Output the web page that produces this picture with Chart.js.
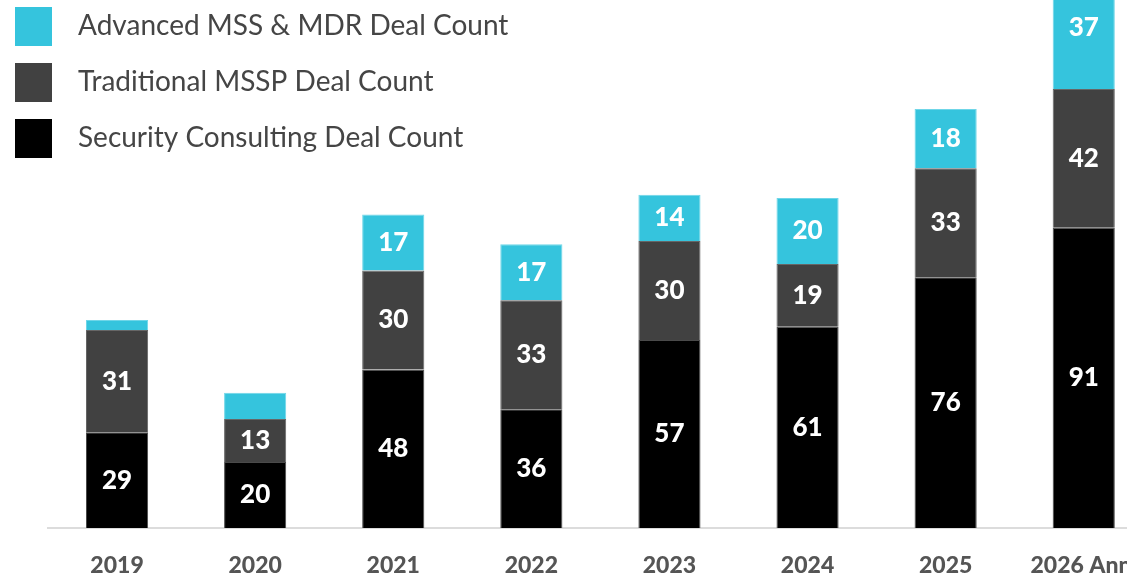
<!DOCTYPE html>
<html>
<head>
<meta charset="utf-8">
<script src="https://cdn.jsdelivr.net/npm/chart.js@4/dist/chart.umd.min.js"></script>
<style>
  html, body { margin: 0; padding: 0; background: #fff; overflow: hidden; }
  #wrap { position: relative; width: 1161px; height: 573px; }
</style>
</head>
<body>
<div id="wrap"><canvas id="c"></canvas></div>
<script>
const categories = ['2019', '2020', '2021', '2022', '2023', '2024', '2025', '2026 Ann.'];
const securityConsulting = [29, 20, 48, 36, 57, 61, 76, 91];
const traditionalMSSP = [31, 13, 30, 33, 30, 19, 33, 42];
const advancedMSSMDR = [3, 8, 17, 17, 14, 20, 18, 37];
const seriesNames = ['Security Consulting Deal Count', 'Traditional MSSP Deal Count', 'Advanced MSS & MDR Deal Count'];
const seriesColors = ['#000000', '#414141', '#35c4dd'];
const seriesBorders = ['#4a4a4a', '#666666', '#6fd6e8'];

const FONT = 'Lato, "Open Sans", sans-serif';

const valueLabels = {
  id: 'valueLabels',
  afterDatasetsDraw(chart) {
    const ctx = chart.ctx;
    ctx.save();
    ctx.fillStyle = '#ffffff';
    ctx.font = '900 26px ' + FONT;
    ctx.textAlign = 'center';
    ctx.textBaseline = 'middle';
    chart.data.datasets.forEach((ds, i) => {
      const meta = chart.getDatasetMeta(i);
      meta.data.forEach((el, j) => {
        const v = ds.data[j];
        if (v < 10) return;
        const y = (el.y + el.base) / 2;
        ctx.fillText(String(v), el.x, y);
      });
    });
    ctx.restore();
  }
};

const customLegend = {
  id: 'customLegend',
  afterDraw(chart) {
    const ctx = chart.ctx;
    ctx.save();
    const order = [2, 1, 0];
    order.forEach((dsIdx, row) => {
      const top = 7 + row * 56;
      ctx.fillStyle = seriesColors[dsIdx];
      ctx.fillRect(15, top, 37, 39);
      ctx.fillStyle = '#454545';
      ctx.font = '28px ' + FONT;
      ctx.textAlign = 'left';
      ctx.textBaseline = 'middle';
      ctx.fillText(chart.data.datasets[dsIdx].label, 78, top + 19);
    });
    ctx.restore();
  }
};

new Chart(document.getElementById('c'), {
  type: 'bar',
  data: {
    labels: categories,
    datasets: [
      { label: seriesNames[0], data: securityConsulting, backgroundColor: seriesColors[0], borderColor: seriesBorders[0], borderWidth: 1 },
      { label: seriesNames[1], data: traditionalMSSP, backgroundColor: seriesColors[1], borderColor: seriesBorders[1], borderWidth: 1 },
      { label: seriesNames[2], data: advancedMSSMDR, backgroundColor: seriesColors[2], borderColor: seriesBorders[2], borderWidth: 1 }
    ]
  },
  options: {
    responsive: true,
    maintainAspectRatio: false,
    animation: false,
    layout: { padding: { left: 48, right: 0, top: 0, bottom: 0 } },
    datasets: { bar: { barPercentage: 0.45, categoryPercentage: 1.0 } },
    plugins: { legend: { display: false }, tooltip: { enabled: false } },
    scales: {
      x: {
        stacked: true,
        grid: { display: false, drawTicks: false },
        border: { display: true, color: '#dcdcdc', width: 2 },
        ticks: {
          autoSkip: false, maxRotation: 0, minRotation: 0,
          color: '#555555',
          font: { family: FONT, size: 23, weight: '900' },
          padding: 24
        },
        afterFit(s) { s.height = 45; }
      },
      y: {
        stacked: true,
        display: false,
        min: 0,
        max: 160
      }
    }
  },
  plugins: [valueLabels, customLegend]
});
</script>
</body>
</html>
